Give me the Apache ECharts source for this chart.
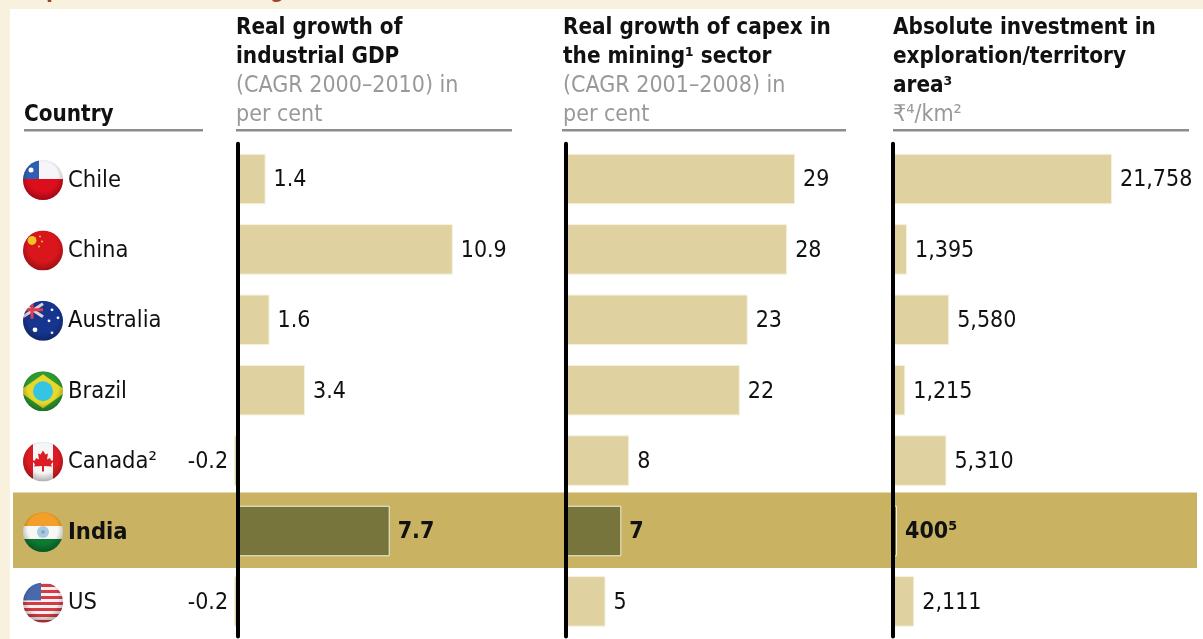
<!DOCTYPE html>
<html>
<head>
<meta charset="utf-8">
<style>html,body{margin:0;padding:0;background:#fff}#chart{width:1203px;height:639px}</style>
<script src="https://cdn.jsdelivr.net/npm/echarts@6/dist/echarts.min.js"></script>
</head>
<body>
<div id="chart"></div>
<script>
// Mining-sector comparison by country
const countries = ['Chile', 'China', 'Australia', 'Brazil', 'Canada²', 'India', 'US'];
const flagCodes = ['cl', 'cn', 'au', 'br', 'ca', 'in', 'us'];
const industrialGdpGrowth = [1.4, 10.9, 1.6, 3.4, -0.2, 7.7, -0.2];
const miningCapexGrowth = [29, 28, 23, 22, 8, 7, 5];
const explorationInvestment = [21758, 1395, 5580, 1215, 5310, 400, 2111];
const highlighted = 'India';

const FONT = '"DejaVu Sans Condensed","DejaVu Sans",sans-serif';
const BAR = '#DFD2A0', BAR_EDGE = '#F5F0DC', HI_BAR = '#77743C', BAND = '#C9B363';

// Each flag is a small SVG sphere: flat artwork clipped to a circle with a shaded overlay.
const flagArt = {
  cl: '<rect width="40" height="20" fill="#f6f6fa"/><rect y="19" width="40" height="21" fill="#dc0f1e"/><rect width="16" height="19" fill="#2f5fb0"/><circle cx="8" cy="10" r="2.500" fill="#fff"/>',
  cn: '<rect width="40" height="40" fill="#d9141c"/><circle cx="9" cy="10" r="4.500" fill="#f2c428"/><circle cx="17" cy="6" r="1" fill="#f2c428"/><circle cx="19" cy="11" r="1" fill="#f2c428"/><circle cx="16" cy="16" r="1" fill="#f2c428"/>',
  au: '<rect width="40" height="40" fill="#17358f"/><path d="M0 3L20 16M0 16L20 3" stroke="#e8ccd6" stroke-width="3"/><path d="M0 9H20M9 0V18" stroke="#d8404e" stroke-width="3"/><circle cx="29" cy="9" r="1.400" fill="#fff"/><circle cx="35" cy="17" r="1.400" fill="#fff"/><circle cx="26" cy="20" r="1.400" fill="#fff"/><circle cx="29" cy="32" r="1.400" fill="#fff"/><circle cx="12" cy="29" r="2.400" fill="#fff"/>',
  br: '<rect width="40" height="40" fill="#2f9a30"/><path d="M20 3L44 20L20 37L-4 20Z" fill="#e8d82a"/><circle cx="20" cy="20" r="10" fill="#36c4e4"/>',
  ca: '<rect width="40" height="40" fill="#f6f6f6"/><rect width="10" height="40" fill="#dc1a22"/><rect x="30" width="10" height="40" fill="#dc1a22"/><path d="M20 9L22.500 13L25 12L24 18L27 16.500L28 19L31 19L28 23L29 25L21 24.500L21 30H19L19 24.500L11 25L12 23L9 19L12 19L13 16.500L16 18L15 12L17.500 13Z" fill="#dc1a22"/>',
  in: '<rect width="40" height="14" fill="#f2a02c"/><rect y="14" width="40" height="13" fill="#f7f7f4"/><rect y="27" width="40" height="13" fill="#0f7a32"/><circle cx="20" cy="20" r="6" fill="#a9cbe0"/><circle cx="20" cy="20" r="2" fill="#7fa9cc"/>',
  us: '<rect width="40" height="40" fill="#f4f0f0"/><path d="M0 3H40M0 9H40M0 15H40M0 21H40M0 27H40M0 33H40M0 39H40" stroke="#d63a44" stroke-width="3"/><rect width="18" height="18" fill="#4a69ac"/>'
};
function flagImage(code) {
  const svg = '<svg xmlns="http://www.w3.org/2000/svg" width="40" height="40" viewBox="0 0 40 40">' +
    '<defs><clipPath id="c"><circle cx="20" cy="20" r="20"/></clipPath>' +
    '<radialGradient id="s" cx="50%" cy="42%" r="62%"><stop offset="0" stop-color="#000" stop-opacity="0"/>' +
    '<stop offset=".6" stop-color="#000" stop-opacity="0"/><stop offset="1" stop-color="#000" stop-opacity=".35"/></radialGradient>' +
    '<filter id="b" x="-10%" y="-10%" width="120%" height="120%"><feGaussianBlur stdDeviation=".7"/></filter></defs>' +
    '<g clip-path="url(#c)"><g filter="url(#b)">' + flagArt[code] + '</g><rect width="40" height="40" fill="url(#s)"/></g></svg>';
  return 'data:image/svg+xml;charset=utf-8,' + encodeURIComponent(svg);
}

const ROW_TOP = 143.8, ROW_HEIGHT = 492.8;

function yAxisFor(gridIndex, showLine) {
  return {
    type: 'category', gridIndex, inverse: true, data: countries, z: 10,
    axisTick: {show: false}, axisLabel: {show: false}, splitLine: {show: false},
    axisLine: {show: showLine, onZero: true, lineStyle: {color: '#000', width: 4, cap: 'round'}}
  };
}
function xAxisFor(gridIndex, min, max) {
  return {type: 'value', gridIndex, min, max, show: false};
}
function barSeries(index, values, format) {
  return {
    type: 'bar', xAxisIndex: index, yAxisIndex: index, barWidth: 50.5, z: 3,
    data: values.map((v, i) => {
      const hi = countries[i] === highlighted;
      return {
        value: v,
        itemStyle: hi ? {color: HI_BAR, borderColor: '#F2EFE0', borderWidth: 1}
                      : {color: BAR, borderColor: BAR_EDGE, borderWidth: 1},
        label: {
          show: true, position: v < 0 ? 'left' : 'right', distance: v < 0 ? 6 : 8, offset: [0, 1.5],
          fontFamily: FONT, fontSize: 23, color: '#111', fontWeight: hi ? 'bold' : 'normal',
          formatter: () => format(v, hi)
        }
      };
    })
  };
}

const option = {
  animation: false,
  backgroundColor: '#fff',
  grid: [
    {left: 13, width: 1184, top: ROW_TOP, height: ROW_HEIGHT},
    {left: 218.3, width: 295.5, top: ROW_TOP, height: ROW_HEIGHT},
    {left: 558.1, width: 292.3, top: ROW_TOP, height: ROW_HEIGHT},
    {left: 882.93, width: 312, top: ROW_TOP, height: ROW_HEIGHT}
  ],
  xAxis: [xAxisFor(0, 0, 1), xAxisFor(1, -1, 14), xAxisFor(2, -1, 36), xAxisFor(3, -1000, 30000)],
  yAxis: [yAxisFor(0, false), yAxisFor(1, true), yAxisFor(2, true), yAxisFor(3, true)],
  series: [
    {
      // Highlight band and country column share the full-width grid
      type: 'custom', xAxisIndex: 0, yAxisIndex: 0, z: 1, silent: true,
      data: countries.map((c, i) => [0, i]),
      renderItem(params, api) {
        const i = api.value(1);
        const name = countries[i];
        const [, cy] = api.coord([0, i]);
        const children = [];
        if (name === highlighted) {
          children.push({type: 'rect', shape: {x: params.coordSys.x, y: cy - 38.5, width: params.coordSys.width, height: 75.5}, style: {fill: BAND}});
        }
        children.push({type: 'image', style: {image: flagImage(flagCodes[i]), x: 23, y: cy - 19, width: 40, height: 40}});
        children.push({type: 'text', style: {
          text: name, x: 68, y: cy + 1.5, verticalAlign: 'middle', fill: '#111',
          font: (name === highlighted ? 'bold ' : '') + '23.5px ' + FONT
        }});
        return {type: 'group', children};
      }
    },
    barSeries(1, industrialGdpGrowth, v => String(v)),
    barSeries(2, miningCapexGrowth, v => String(v)),
    barSeries(3, explorationInvestment, (v, hi) => v.toLocaleString('en-US') + (hi ? '⁵' : ''))
  ],
  graphic: [
    // Cream page margin above and left of the table
    {type: 'rect', z: -1, shape: {x: 0, y: 0, width: 1203, height: 9}, style: {fill: '#F8F1DD'}},
    {type: 'rect', z: -1, shape: {x: 0, y: 0, width: 10, height: 639}, style: {fill: '#F8F1DD'}},
    // Page heading, cut off by the top edge
    {type: 'text', x: 19, y: 2.5, style: {
      text: 'Exploration and mining', verticalAlign: 'bottom', fill: '#A0402A',
      font: 'bold 22.5px ' + FONT
    }},
    ...[[24, 203], [236, 512], [562, 846], [893, 1189]].map(([a, b]) => ({
      type: 'rect', shape: {x: a, y: 129, width: b - a, height: 2.5}, style: {fill: '#8C8C8C'}
    })),
    ...[
      [24, 115, 'Country', true],
      [236, 28.5, 'Real growth of', true], [236, 57.5, 'industrial GDP', true],
      [236, 86, '(CAGR 2000–2010) in', false], [236, 115, 'per cent', false],
      [563, 28.5, 'Real growth of capex in', true], [563, 57.5, 'the mining¹ sector', true],
      [563, 86, '(CAGR 2001–2008) in', false], [563, 115, 'per cent', false],
      [893, 28.5, 'Absolute investment in', true], [893, 57.5, 'exploration/territory', true],
      [893, 86.5, 'area³', true], [893, 115, '₹⁴/km²', false]
    ].map(([x, y, text, bold]) => ({
      type: 'text', x, y, style: {
        text, verticalAlign: 'middle', fill: bold ? '#111' : '#999',
        font: (bold ? 'bold 22.3px ' : '23px ') + FONT
      }
    }))
  ]
};
echarts.init(document.getElementById('chart'), null, {renderer: 'canvas'}).setOption(option);
</script>
</body>
</html>
